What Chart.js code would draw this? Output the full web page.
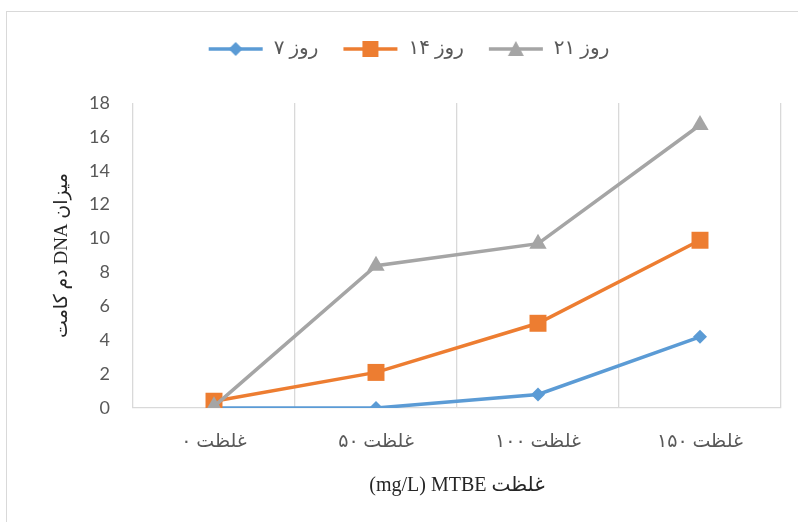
<!DOCTYPE html>
<html lang="fa">
  <head>
    <meta charset="UTF-8" />
    <title>DNA دم کامت</title>
    <script src="https://cdn.jsdelivr.net/npm/chart.js"></script>
    <style>
      body {
        margin: 0;
        background: #fff;
        overflow: hidden;
      }
      .frame {
        position: absolute;
        left: 6px;
        top: 11px;
        width: 820px;
        height: 540px;
        border: 1px solid #d9d9d9;
      }
      .wrap {
        position: absolute;
        left: 0;
        top: 0;
        width: 798px;
        height: 522px;
      }
    </style>
  </head>
  <body>
    <div class="frame"></div>
    <div class="wrap"><canvas id="chart"></canvas></div>
    <script>
      // data
      const categories = ["غلظت ۰", "غلظت ۵۰", "غلظت ۱۰۰", "غلظت ۱۵۰"];
      const seriesNames = ["روز ۷", "روز ۱۴", "روز ۲۱"];
      const day7 = [0, 0, 0.8, 4.2];
      const day14 = [0.4, 2.1, 5.0, 9.9];
      const day21 = [0.1, 8.4, 9.7, 16.7];
      const yMin = 0, yMax = 18, yStep = 2;

      const colors = ["#5B9BD5", "#ED7D31", "#A5A5A5"];
      const markers = ["rectRot", "rect", "triangle"];
      const radii = [7, 12, 10];

      // small legend symbol: a line with the marker in the middle
      function legendIcon(color, marker) {
        const c = document.createElement("canvas");
        c.width = 56;
        c.height = 20;
        const g = c.getContext("2d");
        g.strokeStyle = color;
        g.lineWidth = 3.5;
        g.beginPath();
        g.moveTo(1, 10);
        g.lineTo(55, 10);
        g.stroke();
        g.fillStyle = color;
        g.beginPath();
        if (marker === "rectRot") {
          g.moveTo(28, 3); g.lineTo(35, 10); g.lineTo(28, 17); g.lineTo(21, 10);
        } else if (marker === "rect") {
          g.rect(20, 2, 16, 16);
        } else {
          g.moveTo(28, 2); g.lineTo(36, 17); g.lineTo(20, 17);
        }
        g.closePath();
        g.fill();
        return c;
      }

      const allSeries = [day7, day14, day21];
      const datasets = allSeries.map((vals, i) => ({
        label: seriesNames[i],
        data: vals,
        borderColor: colors[i],
        backgroundColor: colors[i],
        borderWidth: 3.5,
        pointStyle: markers[i],
        pointRadius: radii[i],
        pointHoverRadius: radii[i],
        pointBorderWidth: 0,
        tension: 0,
        order: allSeries.length - 1 - i,
      }));

      const font = "'Liberation Serif', 'DejaVu Sans', serif";

      // extra room under the legend and a small sideways nudge
      const legendPad = {
        id: "legendPad",
        beforeInit(chart) {
          const fit = chart.legend.fit;
          chart.legend.fit = function () {
            fit.call(this);
            this.height += 34;
          };
        },
        afterLayout(chart) {
          chart.legend.left += 18;
          chart.legend.right += 18;
        },
      };

      new Chart(document.getElementById("chart"), {
        type: "line",
        data: { labels: categories, datasets: datasets },
        options: {
          responsive: true,
          maintainAspectRatio: false,
          animation: false,
          layout: { padding: { left: 0, right: 17, top: 15, bottom: 0 } },
          plugins: {
            tooltip: { enabled: false },
            legend: {
              position: "top",
              labels: {
                usePointStyle: true,
                pointStyleWidth: 56,
                padding: 24,
                color: "#595959",
                font: { family: font, size: 20 },
                generateLabels(chart) {
                  return chart.data.datasets.map((ds, i) => ({
                    text: ds.label,
                    datasetIndex: i,
                    pointStyle: legendIcon(colors[i], markers[i]),
                    fontColor: "#595959",
                    lineWidth: 0,
                  }));
                },
              },
            },
          },
          scales: {
            x: {
              offset: true,
              grid: { offset: true, color: "#d9d9d9", lineWidth: 1.3, drawTicks: false },
              border: { color: "#d9d9d9", width: 1.3 },
              ticks: { color: "#595959", padding: 23, font: { family: font, size: 19 } },
              title: {
                display: true,
                text: "(mg/L) MTBE غلظت",
                color: "#262626",
                font: { family: font, size: 20 },
                padding: { top: 0, bottom: 24 },
              },
              afterFit(scale) {
                scale.height = 114;
              },
            },
            y: {
              min: yMin,
              max: yMax,
              grid: { display: false },
              border: { display: false },
              ticks: {
                stepSize: yStep,
                color: "#595959",
                padding: 15,
                font: { family: "Lato, 'Open Sans', sans-serif", size: 18 },
              },
              title: {
                display: true,
                text: "دم کامت DNA میزان",
                color: "#262626",
                font: { family: font, size: 19 },
                padding: { top: 51, bottom: 0 },
              },
              afterFit(scale) {
                scale.width = 133;
              },
            },
          },
        },
        plugins: [legendPad],
      });
    </script>
  </body>
</html>
